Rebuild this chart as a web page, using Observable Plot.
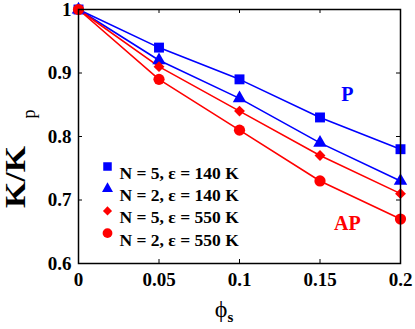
<!DOCTYPE html>
<html>
<head>
<meta charset="utf-8">
<script src="https://cdn.jsdelivr.net/npm/d3@7"></script>
<script src="https://cdn.jsdelivr.net/npm/@observablehq/plot@0.6"></script>
<style>
  html, body { margin: 0; padding: 0; background: #fff; }
  #chart { width: 415px; height: 329px; }
</style>
</head>
<body>
<div id="chart"></div>
<script>
// ---- data ----
const phiValues = [0, 0.05, 0.1, 0.15, 0.2];
const squareN5e140 = [1, 0.94, 0.89, 0.83, 0.78];
const triangleN2e140 = [1, 0.92, 0.86, 0.79, 0.73];
const diamondN5e550 = [1, 0.91, 0.84, 0.77, 0.71];
const circleN2e550 = [1, 0.89, 0.81, 0.73, 0.67];
const seriesNames = ["N = 5, ε = 140 K", "N = 2, ε = 140 K", "N = 5, ε = 550 K", "N = 2, ε = 550 K"];
const seriesColors = ["#0000ff", "#0000ff", "#ff0000", "#ff0000"];
const seriesSymbols = ["square", "triangle", "diamond2", "circle"];
const xTicks = [0, 0.05, 0.1, 0.15, 0.2];
const xTickLabels = ["0", "0.05", "0.1", "0.15", "0.2"];
const yTicks = [0.6, 0.7, 0.8, 0.9, 1];
const yTickLabels = ["0.6", "0.7", "0.8", "0.9", "1"];
const annotations = [
  {label: "P", x: 0.167, y: 0.866, color: "#0000ff"},
  {label: "AP", x: 0.167, y: 0.663, color: "#ff0000"}
];

const seriesValues = [squareN5e140, triangleN2e140, diamondN5e550, circleN2e550];
const rows = seriesValues.flatMap((vals, i) =>
  vals.map((v, j) => ({series: seriesNames[i], idx: i, x: phiValues[j], y: v})));

const font = "'Liberation Serif', 'Times New Roman', serif";
const symbolSizes = [5.6, 5.0, 4.9, 5.6];
const legendSizes = [4.8, 4.1, 4.1, 4.9];

const marks = [];
seriesNames.forEach((name, i) => {
  const d = rows.filter(r => r.idx === i);
  marks.push(Plot.line(d, {x: "x", y: "y", stroke: seriesColors[i], strokeWidth: 1.6, curve: "linear"}));
});
seriesNames.forEach((name, i) => {
  const d = rows.filter(r => r.idx === i);
  marks.push(Plot.dot(d, {x: "x", y: "y", symbol: () => seriesSymbols[i], fill: seriesColors[i], r: symbolSizes[i], stroke: "none"}));
});
// legend
seriesNames.forEach((name, i) => {
  marks.push(Plot.dot([name], {frameAnchor: "top-left", dx: 29, dy: 157 + i * 22.2, symbol: () => seriesSymbols[i], fill: seriesColors[i], r: legendSizes[i], stroke: "none"}));
  marks.push(Plot.text([name], {frameAnchor: "top-left", dx: 41, dy: 157 + i * 22.2, text: d => d, textAnchor: "start", fontSize: 17.5, fontWeight: "bold", fill: "black"}));
});
// annotations
marks.push(Plot.text(annotations, {x: "x", y: "y", text: "label", fill: "color", fontSize: 20, fontWeight: "bold"}));
// axes labels
marks.push(Plot.axisX(xTicks, {anchor: "bottom", tickSize: 0, tickPadding: 9, tickFormat: (d, i) => xTickLabels[i], fontSize: 19, fontWeight: "bold", label: null}));
marks.push(Plot.axisY(yTicks, {anchor: "left", tickSize: 0, tickPadding: 7, tickFormat: (d, i) => yTickLabels[i], fontSize: 19, fontWeight: "bold", label: null}));
// inward ticks
marks.push(Plot.tickX(xTicks, {x: d => d, insetTop: 254 - 4, stroke: "black", strokeWidth: 1}));
marks.push(Plot.tickX(xTicks, {x: d => d, insetBottom: 254 - 4, stroke: "black", strokeWidth: 1}));
marks.push(Plot.tickY(yTicks, {y: d => d, insetLeft: 322 - 4, stroke: "black", strokeWidth: 1}));
marks.push(Plot.tickY(yTicks, {y: d => d, insetRight: 322 - 4, stroke: "black", strokeWidth: 1}));
marks.push(Plot.frame({stroke: "black", strokeWidth: 1.5}));

const chart = Plot.plot({
  width: 415,
  height: 329,
  marginLeft: 78,
  marginRight: 15,
  marginTop: 9,
  marginBottom: 66,
  x: {domain: [0, 0.2]},
  y: {domain: [0.6, 1]},
  style: {fontFamily: font, background: "white", color: "black", overflow: "visible"},
  marks
});

const svg = d3.select(chart);
// y label K/K_p
svg.append("text")
  .attr("transform", "translate(25,177) rotate(-90)")
  .attr("font-family", font)
  .attr("font-size", 29)
  .attr("font-weight", "bold")
  .attr("textLength", 62)
  .attr("lengthAdjust", "spacingAndGlyphs")
  .attr("fill", "black")
  .text("K/K");
svg.append("text")
  .attr("transform", "translate(35,114) rotate(-90)")
  .attr("font-family", font)
  .attr("font-size", 18)
  .attr("fill", "black")
  .text("p");
// x label phi_s
const xl = svg.append("text")
  .attr("x", 224)
  .attr("y", 317)
  .attr("font-family", font)
  .attr("fill", "black");
xl.append("tspan").attr("font-size", 24).text("ϕ");
xl.append("tspan").attr("font-size", 15).attr("font-weight", "bold").attr("dy", 5).text("s");

document.getElementById("chart").appendChild(chart);
</script>
</body>
</html>
